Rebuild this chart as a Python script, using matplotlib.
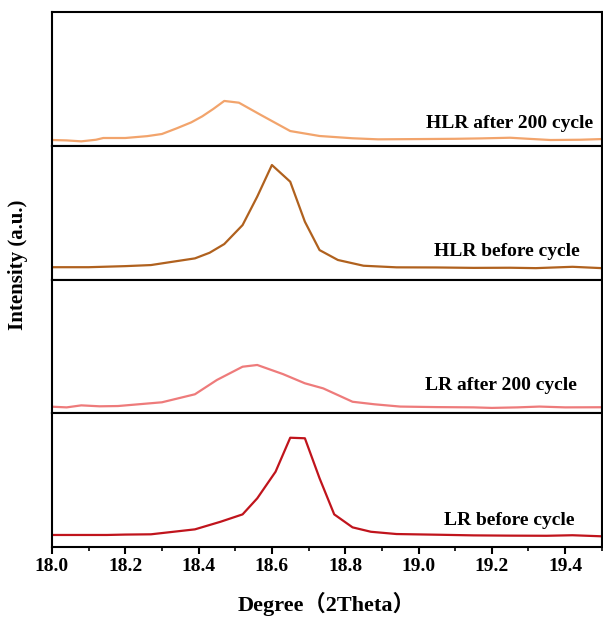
import matplotlib
matplotlib.use("Agg")
import matplotlib.pyplot as plt
from matplotlib.ticker import MultipleLocator

# values (degree, normalised intensity inside each panel)
hlr_after_x = [18.00, 18.04, 18.08, 18.12, 18.14, 18.20, 18.26, 18.30, 18.34, 18.38,
               18.41, 18.44, 18.47, 18.51, 18.57, 18.65, 18.73, 18.82, 18.89, 19.00,
               19.10, 19.17, 19.25, 19.30, 19.36, 19.44, 19.50]
hlr_after_y = [0.043, 0.040, 0.033, 0.045, 0.058, 0.058, 0.072, 0.088, 0.130, 0.175,
               0.220, 0.275, 0.335, 0.322, 0.230, 0.110, 0.073, 0.056, 0.048, 0.050,
               0.052, 0.055, 0.060, 0.052, 0.043, 0.045, 0.050]

hlr_before_x = [18.00, 18.10, 18.20, 18.27, 18.32, 18.39, 18.43, 18.47, 18.52, 18.56,
                18.60, 18.65, 18.69, 18.73, 18.78, 18.85, 18.94, 19.05, 19.15, 19.25,
                19.32, 19.42, 19.50]
hlr_before_y = [0.092, 0.092, 0.100, 0.108, 0.129, 0.158, 0.200, 0.265, 0.407, 0.620,
                0.856, 0.731, 0.432, 0.220, 0.146, 0.103, 0.091, 0.090, 0.087, 0.088,
                0.085, 0.095, 0.085]

lr_after_x = [18.00, 18.04, 18.08, 18.13, 18.18, 18.30, 18.39, 18.45, 18.52, 18.56,
              18.63, 18.69, 18.74, 18.82, 18.88, 18.95, 19.05, 19.15, 19.20, 19.27,
              19.33, 19.40, 19.50]
lr_after_y = [0.049, 0.044, 0.059, 0.052, 0.054, 0.082, 0.142, 0.249, 0.348, 0.361,
              0.293, 0.224, 0.186, 0.086, 0.067, 0.050, 0.046, 0.044, 0.040, 0.044,
              0.050, 0.044, 0.045]

lr_before_x = [18.00, 18.08, 18.15, 18.20, 18.27, 18.39, 18.46, 18.52, 18.56, 18.61,
               18.65, 18.69, 18.73, 18.77, 18.82, 18.87, 18.94, 19.05, 19.15, 19.25,
               19.35, 19.42, 19.50]
lr_before_y = [0.090, 0.090, 0.090, 0.093, 0.095, 0.132, 0.189, 0.244, 0.364, 0.563,
               0.817, 0.813, 0.514, 0.244, 0.147, 0.114, 0.097, 0.092, 0.087, 0.085,
               0.084, 0.088, 0.080]

labels = ["HLR after 200 cycle", "HLR before cycle", "LR after 200 cycle", "LR before cycle"]
colors = ["#F2A46C", "#B0611E", "#EE7B7B", "#C0141C"]
label_pos = [(0.984, 0.163), (0.96, 0.213), (0.955, 0.204), (0.951, 0.20)]

series = [(hlr_after_x, hlr_after_y), (hlr_before_x, hlr_before_y),
          (lr_after_x, lr_after_y), (lr_before_x, lr_before_y)]

serif = ["Liberation Serif", "Noto Sans CJK SC"]

fig, axes = plt.subplots(4, 1, figsize=(6.03, 6.19), dpi=100, sharex=True)
fig.subplots_adjust(left=0.0862, right=0.998, top=0.9806, bottom=0.1163, hspace=0)

for i, ax in enumerate(axes):
    x, y = series[i]
    ax.plot(x, y, color=colors[i], lw=1.6)
    ax.set_ylim(0, 1)
    ax.set_xlim(18.0, 19.5)
    ax.set_yticks([])
    for sp in ax.spines.values():
        sp.set_linewidth(1.5)
    ax.text(label_pos[i][0], label_pos[i][1], labels[i], transform=ax.transAxes,
            ha="right", va="center", fontsize=14, fontweight="bold", family=serif)
    if i < 3:
        ax.tick_params(axis="x", which="both", bottom=False, labelbottom=False)

ax = axes[-1]
ax.xaxis.set_major_locator(MultipleLocator(0.2))
ax.xaxis.set_minor_locator(MultipleLocator(0.1))
ax.tick_params(axis="x", which="major", direction="out", length=5, width=1.5, pad=3)
ax.tick_params(axis="x", which="minor", direction="out", length=3, width=1.2)
for lab in ax.get_xticklabels():
    lab.set_fontsize(14)
    lab.set_fontweight("bold")
    lab.set_family(serif)
ax.set_xlabel("Degree（2Theta）", fontsize=16, fontweight="bold", family=serif, labelpad=12)

fig.text(0.03, 0.572, "Intensity (a.u.)", rotation=90, ha="center",
         va="center", fontsize=15, fontweight="bold", family=serif)

fig.savefig("out.png", dpi=100)
